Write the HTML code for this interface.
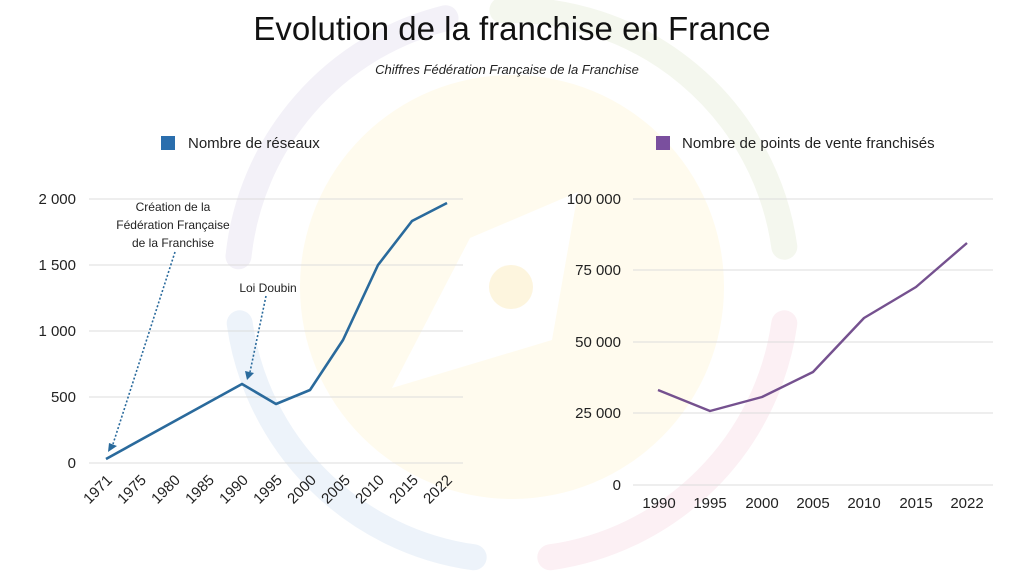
<!DOCTYPE html>
<html><head><meta charset="utf-8"><style>
html,body{margin:0;padding:0;background:#fff;}
svg{display:block;font-family:"Liberation Sans",sans-serif;}
</style></head><body>
<svg width="1024" height="588" viewBox="0 0 1024 588" xmlns="http://www.w3.org/2000/svg">
<rect width="1024" height="588" fill="#fff"/>
<!-- background -->
<circle cx="512" cy="287" r="212" fill="#fffbee"/>
<polygon points="392,388 470,238 578,192 552,340" fill="#fff"/>
<circle cx="511" cy="287" r="22" fill="#fdf5de"/>
<g fill="none" stroke-width="26" stroke-linecap="round">
<path d="M238.5,256.3 A275,275 0 0 1 445.5,18.2" stroke="#f3f1f8"/>
<path d="M502.4,10.2 A275,275 0 0 1 784.3,246.7" stroke="#f4f7ee"/>
<path d="M784.3,323.3 A275,275 0 0 1 550.3,557.3" stroke="#fcf0f4"/>
<path d="M473.7,557.3 A275,275 0 0 1 239.7,323.3" stroke="#edf3fa"/>
</g>
<!-- titles -->
<text x="512" y="40" font-size="33" text-anchor="middle" fill="#111">Evolution de la franchise en France</text>
<text x="507" y="74" font-size="13" font-style="italic" text-anchor="middle" fill="#222">Chiffres Fédération Française de la Franchise</text>
<!-- legends -->
<rect x="161" y="136" width="14" height="14" fill="#2a6ead"/>
<text x="188" y="148" font-size="15" fill="#222">Nombre de réseaux</text>
<rect x="656" y="136" width="14" height="14" fill="#7a4f9e"/>
<text x="682" y="148" font-size="15" fill="#222">Nombre de points de vente franchisés</text>
<!-- grids -->
<g stroke="#dcdcdc" stroke-width="1">
<line x1="89" y1="199" x2="463" y2="199"/><line x1="89" y1="265" x2="463" y2="265"/>
<line x1="89" y1="331" x2="463" y2="331"/><line x1="89" y1="397" x2="463" y2="397"/>
<line x1="89" y1="463" x2="463" y2="463"/>
<line x1="633" y1="199" x2="993" y2="199"/><line x1="633" y1="270" x2="993" y2="270"/>
<line x1="633" y1="342" x2="993" y2="342"/><line x1="633" y1="413" x2="993" y2="413"/>
<line x1="633" y1="485" x2="993" y2="485"/>
</g>
<g font-size="15" fill="#222" text-anchor="end">
<text x="76" y="204">2 000</text><text x="76" y="270">1 500</text>
<text x="76" y="336">1 000</text><text x="76" y="402">500</text><text x="76" y="468">0</text>
<text x="621" y="204">100 000</text><text x="621" y="275">75 000</text>
<text x="621" y="347">50 000</text><text x="621" y="418">25 000</text><text x="621" y="490">0</text>
</g>
<g font-size="15" fill="#222" text-anchor="end">
<text transform="translate(113,481) rotate(-45)">1971</text>
<text transform="translate(147,481) rotate(-45)">1975</text>
<text transform="translate(181,481) rotate(-45)">1980</text>
<text transform="translate(215,481) rotate(-45)">1985</text>
<text transform="translate(249,481) rotate(-45)">1990</text>
<text transform="translate(283,481) rotate(-45)">1995</text>
<text transform="translate(317,481) rotate(-45)">2000</text>
<text transform="translate(351,481) rotate(-45)">2005</text>
<text transform="translate(385,481) rotate(-45)">2010</text>
<text transform="translate(419,481) rotate(-45)">2015</text>
<text transform="translate(453,481) rotate(-45)">2022</text>
</g>
<g font-size="15" fill="#222" text-anchor="middle">
<text x="659" y="508">1990</text><text x="710" y="508">1995</text><text x="762" y="508">2000</text>
<text x="813" y="508">2005</text><text x="864" y="508">2010</text><text x="916" y="508">2015</text>
<text x="967" y="508">2022</text>
</g>
<!-- series -->
<polyline points="106,459 242,384 276,404 310,390 343,340 378,265 412,221 447,203" fill="none" stroke="#2a6a9c" stroke-width="2.6" stroke-linejoin="round"/>
<polyline points="658,390 710,411 762,397 813,372 864,318 916,287 967,243" fill="none" stroke="#75518f" stroke-width="2.4" stroke-linejoin="round"/>
<!-- annotations -->
<g font-size="12" fill="#222" text-anchor="middle">
<text x="173" y="211">Création de la</text>
<text x="173" y="229">Fédération Française</text>
<text x="173" y="247">de la Franchise</text>
<text x="268" y="292">Loi Doubin</text>
</g>
<g stroke="#2a6a9c" stroke-width="1.6" stroke-dasharray="2,2" fill="none">
<line x1="175" y1="252" x2="113" y2="444"/>
<line x1="266" y1="296" x2="250" y2="372"/>
</g>
<polygon points="108,452 109,443 117,446" fill="#2a6a9c"/>
<polygon points="247,380 245,371 254,373" fill="#2a6a9c"/>
</svg>
</body></html>
